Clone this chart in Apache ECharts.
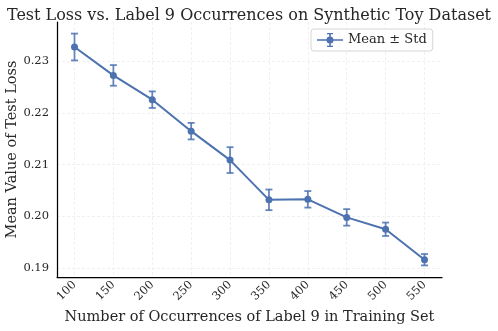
<!DOCTYPE html>
<html><head><meta charset="utf-8">
<script src="https://cdn.jsdelivr.net/npm/echarts@6/dist/echarts.min.js"></script>
<style>html,body{margin:0;padding:0;background:#fff}#c{width:498px;height:331px}</style>
</head><body><div id="c"></div>
<script>
const occurrences = [100, 150, 200, 250, 300, 350, 400, 450, 500, 550];
const meanLoss = [0.2328, 0.2273, 0.2226, 0.2165, 0.2109, 0.2032, 0.2033, 0.1998, 0.1975, 0.1916];
const stdLoss = [0.0026, 0.0020, 0.0016, 0.0016, 0.0025, 0.0020, 0.0016, 0.0016, 0.0013, 0.0011];
const xTicks = [100, 150, 200, 250, 300, 350, 400, 450, 500, 550];
const yTicks = [0.19, 0.20, 0.21, 0.22, 0.23];

const BLUE = '#4C72B0';
const FONT = 'DejaVu Serif';
const TXT = '#262626';

const lineData = occurrences.map((x, i) => [x, meanLoss[i]]);
const errData = occurrences.map((x, i) => [x, meanLoss[i] - stdLoss[i], meanLoss[i] + stdLoss[i]]);

const xMin = 77.5, xMax = 572.5;
let lo = Infinity, hi = -Infinity;
errData.forEach(d => { lo = Math.min(lo, d[1]); hi = Math.max(hi, d[2]); });
const pad = (hi - lo) * 0.05;

const chart = echarts.init(document.getElementById('c'), null, {renderer: 'canvas'});
chart.setOption({
  animation: false,
  backgroundColor: '#fff',
  title: {
    text: 'Test Loss vs. Label 9 Occurrences on Synthetic Toy Dataset',
    left: 'center', top: 3,
    textStyle: {fontFamily: FONT, fontSize: 16, fontWeight: 'normal', color: TXT}
  },
  legend: {
    left: 311, top: 29,
    padding: [4, 6],
    itemWidth: 26, itemHeight: 16,
    itemGap: 8,
    backgroundColor: 'rgba(255,255,255,0.8)',
    borderColor: '#d6d6d6', borderWidth: 1, borderRadius: 3,
    itemStyle: {color: BLUE, borderWidth: 0},
    textStyle: {fontFamily: FONT, fontSize: 13, color: TXT},
    data: [{
      name: 'Mean ± Std',
      icon: 'path://M0,7.2 h26 v1.6 h-26 Z M12.2,1 h1.6 v14 h-1.6 Z M10,1 h6 v1.2 h-6 Z M10,13.8 h6 v1.2 h-6 Z M13,4.5 a3.5,3.5 0 1,1 -0.001,0 Z'
    }]
  },
  grid: {left: 57, right: 56, top: 22, bottom: 54, outerBoundsMode: 'none', containLabel: false},
  xAxis: {
    type: 'value', min: xMin, max: xMax,
    name: 'Number of Occurrences of Label 9 in Training Set',
    nameLocation: 'middle', nameGap: 33, nameMoveOverlap: false,
    nameTextStyle: {fontFamily: FONT, fontSize: 14.5, color: TXT},
    axisLine: {show: true, onZero: false, lineStyle: {color: '#000', width: 1.25}},
    axisTick: {show: false, customValues: xTicks},
    axisLabel: {customValues: xTicks, rotate: 45, margin: 6, fontFamily: FONT, fontSize: 11.5, color: TXT},
    splitLine: {show: true, lineStyle: {color: '#ececec', width: 0.8, type: [3, 2]}}
  },
  yAxis: {
    type: 'value', min: lo - pad, max: hi + pad,
    name: 'Mean Value of Test Loss',
    nameLocation: 'middle', nameGap: 37, nameMoveOverlap: false,
    nameTextStyle: {fontFamily: FONT, fontSize: 14.5, color: TXT},
    axisLine: {show: true, onZero: false, lineStyle: {color: '#000', width: 1.25}},
    axisTick: {show: false, customValues: yTicks},
    axisLabel: {customValues: yTicks, margin: 8, fontFamily: FONT, fontSize: 11.5, color: TXT,
      formatter: v => v.toFixed(2)},
    splitLine: {show: true, lineStyle: {color: '#ececec', width: 0.8, type: [3, 2]}}
  },
  series: [
    {
      name: 'Mean ± Std',
      type: 'line',
      data: lineData,
      symbol: 'circle', symbolSize: 7,
      lineStyle: {color: BLUE, width: 2},
      itemStyle: {color: BLUE},
      z: 3
    },
    {
      name: 'err',
      type: 'custom',
      data: errData,
      encode: {x: 0, y: [1, 2]},
      z: 2,
      renderItem: function (params, api) {
        const x = api.value(0);
        const pLo = api.coord([x, api.value(1)]);
        const pHi = api.coord([x, api.value(2)]);
        const cw = 3.5;
        const st = {stroke: 'rgba(76,114,176,0.85)', lineWidth: 1.8};
        return {
          type: 'group',
          children: [
            {type: 'line', shape: {x1: pLo[0], y1: pLo[1], x2: pHi[0], y2: pHi[1]}, style: st},
            {type: 'line', shape: {x1: pLo[0] - cw, y1: pLo[1], x2: pLo[0] + cw, y2: pLo[1]}, style: st},
            {type: 'line', shape: {x1: pHi[0] - cw, y1: pHi[1], x2: pHi[0] + cw, y2: pHi[1]}, style: st}
          ]
        };
      }
    }
  ]
});
</script>
</body></html>
